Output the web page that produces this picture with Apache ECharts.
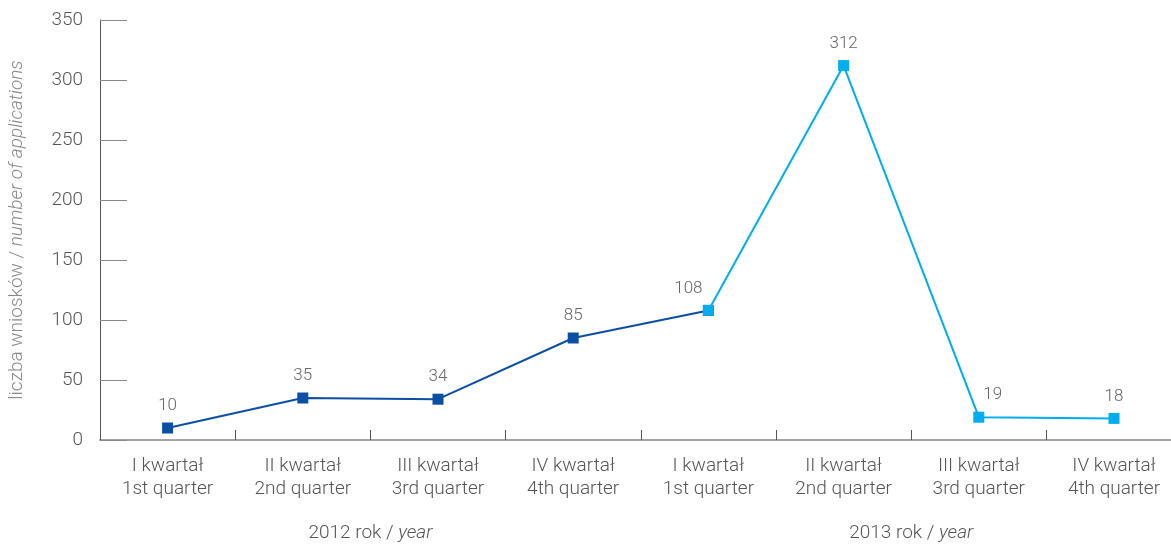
<!DOCTYPE html>
<html>
<head>
<meta charset="utf-8">
<script src="https://cdn.jsdelivr.net/npm/echarts@6/dist/echarts.min.js"></script>
<style>
  html, body { margin: 0; padding: 0; background: #fff; }
  #chart { width: 1171px; height: 544px; }
</style>
</head>
<body>
<div id="chart"></div>
<script>
// Quarterly applications, 2012 and 2013
const quarters = [
  'I kwartał\n1st quarter', 'II kwartał\n2nd quarter', 'III kwartał\n3rd quarter', 'IV kwartał\n4th quarter',
  'I kwartał\n1st quarter', 'II kwartał\n2nd quarter', 'III kwartał\n3rd quarter', 'IV kwartał\n4th quarter'
];
const years = ['2012', '2013'];
const values2012 = [10, 35, 34, 85, 108, '-', '-', '-'];
const values2013 = ['-', '-', '-', '-', 108, 312, 19, 18];
const yTicks = [0, 50, 100, 150, 200, 250, 300, 350];

const DARK = '#0b4fa3';
const LIGHT = '#00adee';
const FONT = 'Roboto, "Liberation Sans", sans-serif';

// value labels: 2012 series labels its own quarters, 2013 series labels the rest
const labelShift = { 4: [-20, 0], 6: [14, 0] };
function buildData(values, showIdx) {
  return values.map((v, i) => {
    if (v === '-') return v;
    const item = { value: v };
    item.label = { show: showIdx(i) };
    if (labelShift[i]) item.label.offset = labelShift[i];
    return item;
  });
}

const chart = echarts.init(document.getElementById('chart'));
chart.setOption({
  animation: false,
  grid: { left: 100, top: 20, bottom: 104, right: -10.6, containLabel: false, outerBoundsMode: 'none' },
  xAxis: [{
    type: 'category',
    data: quarters,
    boundaryGap: true,
    axisLine: { lineStyle: { color: '#a6a6a6', width: 2 } },
    axisTick: { show: true, inside: true, length: 10, lineStyle: { color: '#555', width: 1 } },
    axisLabel: {
      color: '#555', fontSize: 19, fontFamily: FONT, fontWeight: 300,
      lineHeight: 23, margin: 15, interval: 0
    }
  }, {
    type: 'category',
    data: years,
    position: 'bottom',
    boundaryGap: true,
    axisLine: { show: false },
    axisTick: { show: false },
    axisLabel: {
      margin: 84, interval: 0,
      formatter: y => '{a|' + y + ' rok / }{b|year}',
      rich: {
        a: { color: '#555', fontSize: 19, fontFamily: FONT, fontWeight: 300 },
        b: { color: '#555', fontSize: 19, fontFamily: FONT, fontWeight: 300, fontStyle: 'italic' }
      }
    }
  }],
  yAxis: {
    type: 'value',
    min: 0, max: yTicks[yTicks.length - 1], interval: yTicks[1] - yTicks[0],
    name: '{a|liczba wniosków / }{b|number of applications}',
    nameLocation: 'middle',
    nameGap: 73,
    nameRotate: 90,
    nameTextStyle: {
      rich: {
        a: { color: '#888', fontSize: 19, fontFamily: FONT, fontWeight: 300 },
        b: { color: '#888', fontSize: 19, fontFamily: FONT, fontWeight: 300, fontStyle: 'italic' }
      }
    },
    axisLine: { show: true, lineStyle: { color: '#555', width: 1 } },
    axisTick: { show: true, inside: true, length: 27, lineStyle: { color: '#8a8a8a', width: 1 } },
    axisLabel: { color: '#555', fontSize: 19, fontFamily: FONT, fontWeight: 300, margin: 17 },
    splitLine: { show: false }
  },
  series: [{
    type: 'line',
    data: buildData(values2012, i => i < 4),
    symbol: 'rect', symbolSize: 11,
    itemStyle: { color: DARK },
    lineStyle: { color: DARK, width: 2 },
    label: { position: 'top', distance: 8, color: '#666', fontSize: 17, fontFamily: FONT, fontWeight: 300 },
    z: 2
  }, {
    type: 'line',
    data: buildData(values2013, i => i >= 4),
    symbol: 'rect', symbolSize: 11,
    itemStyle: { color: LIGHT },
    lineStyle: { color: LIGHT, width: 2 },
    label: { position: 'top', distance: 8, color: '#666', fontSize: 17, fontFamily: FONT, fontWeight: 300 },
    z: 3
  }]
});
</script>
</body>
</html>
